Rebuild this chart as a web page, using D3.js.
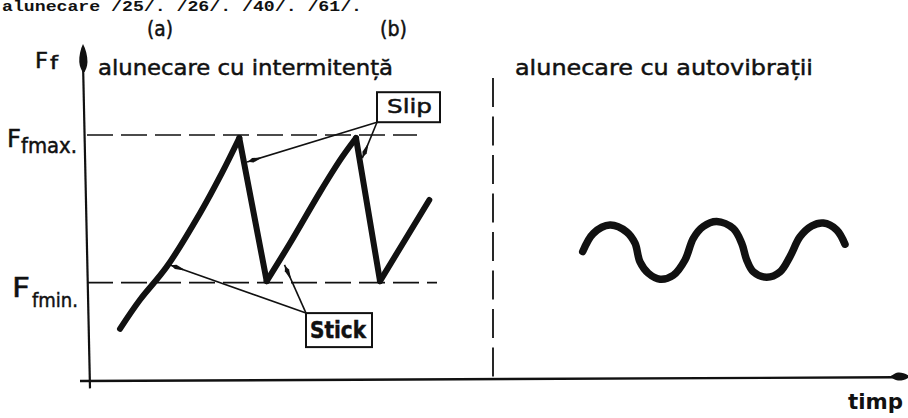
<!DOCTYPE html>
<html>
<head>
<meta charset="utf-8">
<script src="https://cdn.jsdelivr.net/npm/d3@7"></script>
<style>
  html, body { margin: 0; padding: 0; background: #fff; }
  svg { display: block; }
</style>
</head>
<body>
<script>
// ---- data -------------------------------------------------------------
// time axis (arbitrary units) and friction-force axis (arbitrary units)
const timeDomain = [0, 82];
const forceDomain = [0, 5];

// friction force levels marked on the vertical axis
const levelValues = [5, 2];
const levelNames = ["fmax.", "fmin."];

// (a) stick-slip saw-tooth: rising "stick" phases, sharp "slip" drops
const stickSlipTime  = [3.2, 5.2, 7.87, 11.2, 13.37, 15.13, 17.87, 20.2, 23.2, 25.37, 26.8, 29.2, 34.13];
const stickSlipForce = [1.06, 1.65, 2.32, 3.41, 4.22, 4.94, 2.03, 2.8, 3.84, 4.54, 4.94, 2.03, 3.68];
// indices where the saw-tooth changes direction (peaks and troughs)
const stickSlipCorners = [0, 5, 6, 10, 11, 12];

// (b) self-excited vibration
const vibTime  = [49.47, 50.53, 52.2, 53.87, 54.7, 55.2, 56.03, 57.2, 58.53, 59.7, 60.53, 61.53, 62.87,
                  64.53, 65.37, 65.87, 66.53, 67.87, 69.2, 70.2, 71.2, 72.37, 73.53, 74.87, 75.7];
const vibForce = [2.63, 3.0, 3.17, 3.03, 2.8, 2.42, 2.19, 2.07, 2.15, 2.46, 2.9, 3.14, 3.24,
                  3.1, 2.8, 2.46, 2.22, 2.11, 2.22, 2.53, 2.93, 3.15, 3.21, 3.07, 2.78];

// panel boundary (time) and headings
const panelDivider = 40.5;
const panelLetters = ["(a)", "(b)"];
const panelTitles = ["alunecare cu intermitență", "alunecare cu autovibrații"];

// callouts: box corner where leaders start, and points they point at
const calloutNames = ["Slip", "Stick"];
const calloutCorner = [[28.9, 5.26], [21.8, 1.38]];
const calloutTargets = [
  [[15.9, 4.45], [27.43, 4.53]],
  [[8.2, 2.36], [19.65, 2.36]]
];

const axisNames = ["F", "f", "timp"];
const headerLine = "alunecare /25/. /26/. /40/. /61/.";

// ---- drawing ----------------------------------------------------------
const W = 908, H = 418;
const ink = "#111";
const x = d3.scaleLinear().domain(timeDomain).range([88, 908]);
const y = d3.scaleLinear().domain(forceDomain).range([381, 135]);

const svg = d3.select("body").append("svg").attr("width", W).attr("height", H);
svg.append("rect").attr("width", W).attr("height", H).attr("fill", "#fff");

const letterFont = "'DejaVu Sans', sans-serif";

// stencil-style lettering: regular glyphs with a little extra ink
function letter(sel) {
  return sel.attr("font-family", letterFont)
    .attr("fill", ink).attr("stroke", ink).attr("stroke-width", 0.5)
    .attr("lengthAdjust", "spacingAndGlyphs");
}

// running header of the page
svg.append("text")
  .attr("x", 2).attr("y", 11)
  .attr("font-family", "'Liberation Mono', monospace")
  .attr("font-weight", "bold").attr("font-size", 14)
  .attr("textLength", 360).attr("lengthAdjust", "spacingAndGlyphs")
  .attr("fill", ink).text(headerLine);

// panel letters
[[147, 26], [380, 27]].forEach((p, i) => {
  letter(svg.append("text"))
    .attr("x", p[0]).attr("y", 36)
    .attr("font-size", 21).attr("textLength", p[1])
    .text(panelLetters[i]);
});

// panel titles
[[98, 295], [515, 298]].forEach((p, i) => {
  letter(svg.append("text"))
    .attr("x", p[0]).attr("y", 75)
    .attr("font-size", 22).attr("textLength", p[1])
    .text(panelTitles[i]);
});

// dashed level lines Ffmax / Ffmin
const levelEnds = [32.9, 34.9];
levelValues.forEach((v, i) => {
  svg.append("line")
    .attr("x1", x(-0.1)).attr("x2", x(levelEnds[i]))
    .attr("y1", y(v)).attr("y2", y(v))
    .attr("stroke", ink).attr("stroke-width", 1.6)
    .attr("stroke-dasharray", "26,8");
});

// level labels
const levelLabelPos = [
  { fx: 7, fy: 147, fs: 24, fl: 14, sx: 21, sy: 153, ss: 21, sl: 56 },
  { fx: 12, fy: 297, fs: 26, fl: 18, sx: 32, sy: 307, ss: 20, sl: 46 }
];
levelValues.forEach((v, i) => {
  const p = levelLabelPos[i];
  letter(svg.append("text")).attr("x", p.fx).attr("y", p.fy)
    .attr("font-size", p.fs).attr("textLength", p.fl)
    .text(axisNames[0]);
  letter(svg.append("text")).attr("x", p.sx).attr("y", p.sy)
    .attr("font-size", p.ss).attr("textLength", p.sl)
    .text(levelNames[i]);
});

// vertical axis label "Ff"
letter(svg.append("text")).attr("x", 35).attr("y", 68)
  .attr("font-size", 21).attr("textLength", 13)
  .text(axisNames[0]);
letter(svg.append("text")).attr("x", 50).attr("y", 69)
  .attr("font-size", 18).attr("textLength", 8)
  .text(axisNames[1]);

// panel divider
svg.append("line")
  .attr("x1", x(panelDivider)).attr("x2", x(panelDivider))
  .attr("y1", y(6.16)).attr("y2", y(0))
  .attr("stroke", ink).attr("stroke-width", 1.8)
  .attr("stroke-dasharray", "29,9.5");

// axes (hand-drawn: the vertical one leans slightly)
const yTop = [x(-0.48), y(6.3)], yBot = [x(0.2), y(-0.15)];
svg.append("line")
  .attr("x1", yTop[0]).attr("y1", yTop[1]).attr("x2", yBot[0]).attr("y2", yBot[1])
  .attr("stroke", ink).attr("stroke-width", 2.2);
const yTip = [x(-0.5), y(6.85)];
svg.append("path")
  .attr("d", "M0,0 C2.6,5 4.3,12 4.1,18 C3.8,23 2,26 1,28 L-1,28 C-2,26 -3.8,23 -4.1,18 C-4.3,12 -2.6,5 0,0Z")
  .attr("transform", `translate(${yTip[0]},${yTip[1]}) rotate(-1.2)`)
  .attr("fill", ink);

const xLeft = [x(-0.8), y(0)], xRight = [x(80.6), y(0.075)];
svg.append("line")
  .attr("x1", xLeft[0]).attr("y1", xLeft[1]).attr("x2", xRight[0]).attr("y2", xRight[1])
  .attr("stroke", ink).attr("stroke-width", 2.4);
svg.append("path")
  .attr("d", "M0,0 C-4,-3 -8,-4.3 -12,-4 C-15,-3.6 -17,-1.5 -19,-0.9 L-19,0.9 C-17,1.5 -15,3.6 -12,4 C-8,4.3 -4,3 0,0Z")
  .attr("transform", `translate(${x(82.2)},${y(0.09)})`)
  .attr("fill", ink);

// time label
svg.append("text").attr("x", 848).attr("y", 409)
  .attr("font-family", letterFont).attr("font-weight", "bold").attr("font-size", 22)
  .attr("textLength", 55).attr("lengthAdjust", "spacingAndGlyphs")
  .attr("fill", ink).text(axisNames[2]);

// (a) stick-slip curve: smooth rising branches, straight drops
const stickSlip = stickSlipTime.map((t, i) => [t, stickSlipForce[i]]);
const smooth = d3.line().x(d => x(d[0])).y(d => y(d[1])).curve(d3.curveCatmullRom.alpha(0.5));
for (let k = 0; k < stickSlipCorners.length - 1; k++) {
  const seg = stickSlip.slice(stickSlipCorners[k], stickSlipCorners[k + 1] + 1);
  svg.append("path")
    .attr("d", smooth(seg))
    .attr("fill", "none").attr("stroke", ink).attr("stroke-width", 6)
    .attr("stroke-linejoin", "round").attr("stroke-linecap", "round");
}

// (b) self-excited vibration
const vib = vibTime.map((t, i) => [t, vibForce[i]]);
svg.append("path")
  .attr("d", smooth(vib))
  .attr("fill", "none").attr("stroke", ink).attr("stroke-width", 7.5)
  .attr("stroke-linejoin", "round").attr("stroke-linecap", "round");

// callouts
const boxSize = [[63, 30], [66, 34]];
const boxOffset = [[0, -30], [0, 0]];
const textPos = [{ dx: 10, dy: 21, fs: 20, len: 45, fw: "normal" }, { dx: 4, dy: 25, fs: 23, len: 56, fw: "bold" }];

calloutNames.forEach((name, i) => {
  const cx = x(calloutCorner[i][0]), cy = y(calloutCorner[i][1]);
  const bx = cx + boxOffset[i][0], by = cy + boxOffset[i][1];
  calloutTargets[i].forEach(tg => {
    const tx = x(tg[0]), ty = y(tg[1]);
    svg.append("line")
      .attr("x1", cx).attr("y1", cy).attr("x2", tx).attr("y2", ty)
      .attr("stroke", ink).attr("stroke-width", 1.6);
    const ang = Math.atan2(ty - cy, tx - cx) * 180 / Math.PI;
    svg.append("path")
      .attr("d", "M-1,0 L-6,-2.3 L-14,-0.6 L-14,0.6 L-6,2.3 Z")
      .attr("transform", `translate(${tx},${ty}) rotate(${ang})`)
      .attr("fill", ink);
  });
  svg.append("rect")
    .attr("x", bx).attr("y", by)
    .attr("width", boxSize[i][0]).attr("height", boxSize[i][1])
    .attr("fill", "#fff").attr("stroke", ink).attr("stroke-width", 2);
  const tp = textPos[i];
  letter(svg.append("text"))
    .attr("x", bx + tp.dx).attr("y", by + tp.dy)
    .attr("font-size", tp.fs).attr("font-weight", tp.fw)
    .attr("textLength", tp.len)
    .text(name);
});
</script>
</body>
</html>
